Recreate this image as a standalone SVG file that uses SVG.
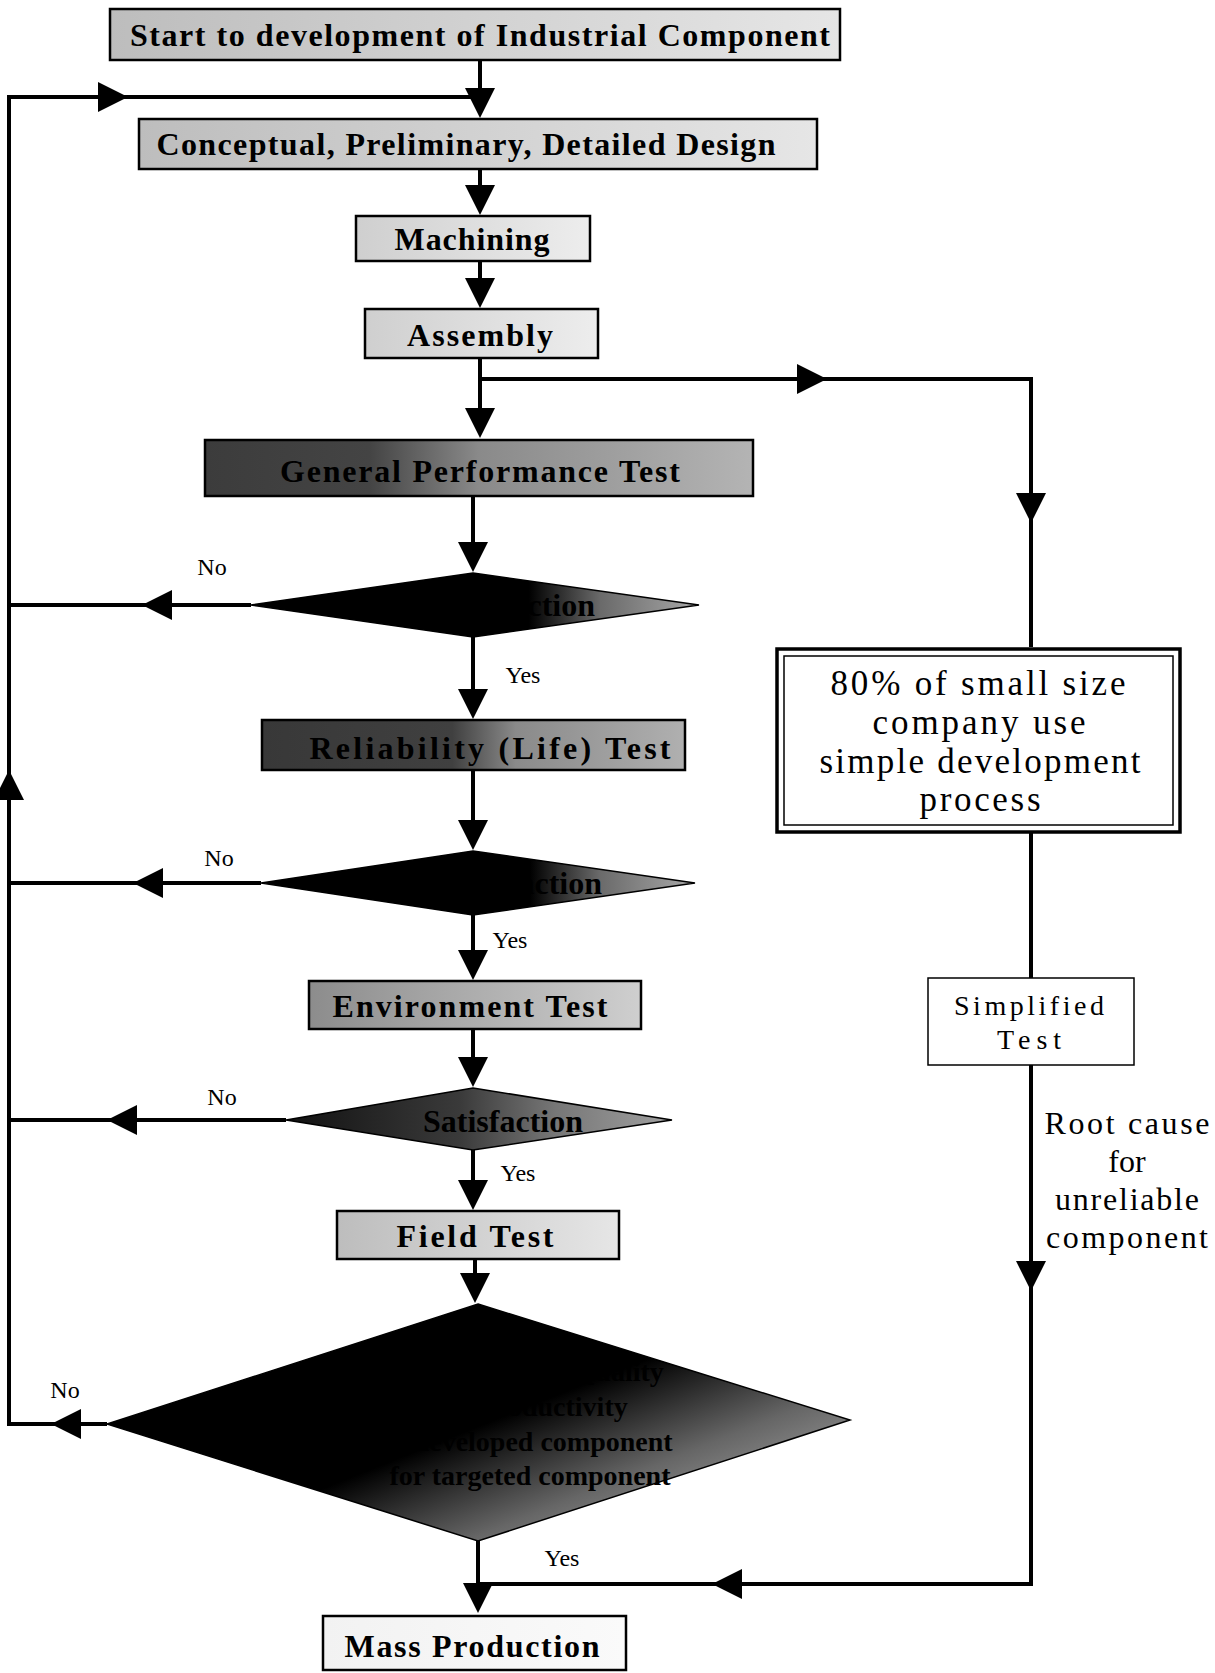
<svg xmlns="http://www.w3.org/2000/svg" xmlns:xlink="http://www.w3.org/1999/xlink" width="1215" height="1673" viewBox="0 0 1215 1673">
  <style>
    .box { stroke: #000; stroke-width: 2.5; }
    .dia { stroke: #000; stroke-width: 1.5; }
    .lbl { font-family: "Liberation Serif", "Times New Roman", serif; font-weight: bold; font-size: 32px; fill: #000; text-anchor: middle; }
    .big { font-size: 28px; }
    .note { font-family: "Liberation Serif", "Times New Roman", serif; font-size: 35px; fill: #000; text-anchor: middle; }
    .mid { font-size: 32px; }
    .small { font-size: 28px; }
    .yn { font-family: "Liberation Serif", "Times New Roman", serif; font-size: 24px; fill: #000; text-anchor: middle; }
    .wire { fill: none; stroke: #000; stroke-width: 4; }
  </style>
  <defs>
    <!-- arrowhead pointing along +x, tip at origin -->
    <polygon id="ah" points="0,0 -30,-15 -30,15" fill="#000"/>
    <linearGradient id="gLight" x1="0" y1="0" x2="1" y2="0">
      <stop offset="0" stop-color="#bdbdbd"/>
      <stop offset="1" stop-color="#e6e6e6"/>
    </linearGradient>
    <linearGradient id="gPale" x1="0" y1="0" x2="1" y2="0">
      <stop offset="0" stop-color="#cfcfcf"/>
      <stop offset="1" stop-color="#ededed"/>
    </linearGradient>
    <linearGradient id="gMid" x1="0" y1="0" x2="1" y2="0">
      <stop offset="0" stop-color="#8c8c8c"/>
      <stop offset="1" stop-color="#cfcfcf"/>
    </linearGradient>
    <linearGradient id="gDark" x1="0" y1="0" x2="1" y2="0">
      <stop offset="0" stop-color="#3c3c3c"/>
      <stop offset="0.3" stop-color="#444"/>
      <stop offset="0.5" stop-color="#8a8a8a"/>
      <stop offset="1" stop-color="#b4b4b4"/>
    </linearGradient>
    <linearGradient id="gDarker" x1="0" y1="0" x2="1" y2="0">
      <stop offset="0" stop-color="#383838"/>
      <stop offset="0.45" stop-color="#404040"/>
      <stop offset="0.6" stop-color="#8a8a8a"/>
      <stop offset="1" stop-color="#b0b0b0"/>
    </linearGradient>
    <linearGradient id="gWhite" x1="0" y1="0" x2="1" y2="0">
      <stop offset="0" stop-color="#f2f2f2"/>
      <stop offset="1" stop-color="#fafafa"/>
    </linearGradient>
    <linearGradient id="gDia" x1="0" y1="0" x2="1" y2="0">
      <stop offset="0" stop-color="#000"/>
      <stop offset="0.62" stop-color="#000"/>
      <stop offset="0.78" stop-color="#6a6a6a"/>
      <stop offset="1" stop-color="#a8a8a8"/>
    </linearGradient>
    <linearGradient id="gDiaMid" x1="0" y1="0" x2="1" y2="0">
      <stop offset="0" stop-color="#111"/>
      <stop offset="0.45" stop-color="#3a3a3a"/>
      <stop offset="0.7" stop-color="#777"/>
      <stop offset="1" stop-color="#a0a0a0"/>
    </linearGradient>
    <linearGradient id="gBig" x1="0.2" y1="0.2" x2="0.95" y2="0.8">
      <stop offset="0" stop-color="#000"/>
      <stop offset="0.45" stop-color="#000"/>
      <stop offset="0.75" stop-color="#666"/>
      <stop offset="1" stop-color="#a0a0a0"/>
    </linearGradient>
  </defs>

  <!-- connectors -->
  <g id="connectors">
    <!-- main spine -->
    <line class="wire" x1="480" y1="60" x2="480" y2="110"/>
    <use xlink:href="#ah" transform="translate(480,118) rotate(90)"/>
    <line class="wire" x1="480" y1="169" x2="480" y2="208"/>
    <use xlink:href="#ah" transform="translate(480,215) rotate(90)"/>
    <line class="wire" x1="480" y1="261" x2="480" y2="300"/>
    <use xlink:href="#ah" transform="translate(480,308) rotate(90)"/>
    <line class="wire" x1="480" y1="358" x2="480" y2="430"/>
    <use xlink:href="#ah" transform="translate(480,438) rotate(90)"/>
    <line class="wire" x1="473" y1="496" x2="473" y2="565"/>
    <use xlink:href="#ah" transform="translate(473,572) rotate(90)"/>
    <line class="wire" x1="473" y1="637" x2="473" y2="712"/>
    <use xlink:href="#ah" transform="translate(473,719) rotate(90)"/>
    <line class="wire" x1="473" y1="770" x2="473" y2="843"/>
    <use xlink:href="#ah" transform="translate(473,850) rotate(90)"/>
    <line class="wire" x1="473" y1="915" x2="473" y2="973"/>
    <use xlink:href="#ah" transform="translate(473,980) rotate(90)"/>
    <line class="wire" x1="473" y1="1029" x2="473" y2="1080"/>
    <use xlink:href="#ah" transform="translate(473,1087) rotate(90)"/>
    <line class="wire" x1="473" y1="1150" x2="473" y2="1203"/>
    <use xlink:href="#ah" transform="translate(473,1210) rotate(90)"/>
    <line class="wire" x1="475" y1="1259" x2="475" y2="1296"/>
    <use xlink:href="#ah" transform="translate(475,1303) rotate(90)"/>
    <line class="wire" x1="478" y1="1541" x2="478" y2="1605"/>
    <use xlink:href="#ah" transform="translate(478,1613) rotate(90)"/>

    <!-- rework loop on the left -->
    <polyline class="wire" points="480,97 9,97 9,1424 107,1424"/>
    <use xlink:href="#ah" transform="translate(128,97)"/>
    <use xlink:href="#ah" transform="translate(9,770) rotate(-90)"/>
    <line class="wire" x1="251" y1="605" x2="9" y2="605"/>
    <use xlink:href="#ah" transform="translate(142,605) rotate(180)"/>
    <line class="wire" x1="261" y1="883" x2="9" y2="883"/>
    <use xlink:href="#ah" transform="translate(133,883) rotate(180)"/>
    <line class="wire" x1="286" y1="1120" x2="9" y2="1120"/>
    <use xlink:href="#ah" transform="translate(107,1120) rotate(180)"/>
    <use xlink:href="#ah" transform="translate(51,1424) rotate(180)"/>

    <!-- simplified branch on the right -->
    <polyline class="wire" points="480,379 1031,379 1031,647"/>
    <use xlink:href="#ah" transform="translate(827,379)"/>
    <use xlink:href="#ah" transform="translate(1031,523) rotate(90)"/>
    <line class="wire" x1="1031" y1="832" x2="1031" y2="978"/>
    <polyline class="wire" points="1031,1065 1031,1584 478,1584"/>
    <use xlink:href="#ah" transform="translate(1031,1291) rotate(90)"/>
    <use xlink:href="#ah" transform="translate(712,1584) rotate(180)"/>

    <!-- branch labels -->
    <text class="yn" x="212" y="575">No</text>
    <text class="yn" x="523" y="683">Yes</text>
    <text class="yn" x="219" y="866">No</text>
    <text class="yn" x="510" y="948">Yes</text>
    <text class="yn" x="222" y="1105">No</text>
    <text class="yn" x="518" y="1181">Yes</text>
    <text class="yn" x="65" y="1398">No</text>
    <text class="yn" x="562" y="1566">Yes</text>
    <text class="note mid" x="1127" y="1134" textLength="165" lengthAdjust="spacing">Root cause</text>
    <text class="note mid" x="1127" y="1172">for</text>
    <text class="note mid" x="1127" y="1210" textLength="144" lengthAdjust="spacing">unreliable</text>
    <text class="note mid" x="1127" y="1248" textLength="162" lengthAdjust="spacing">component</text>
  </g>

  <g id="start">
    <rect class="box" x="110" y="9" width="730" height="51" fill="url(#gLight)" stroke-width="3"/>
    <text class="lbl" x="480" y="46" textLength="700" lengthAdjust="spacing">Start to development of Industrial Component</text>
  </g>
  <g id="design">
    <rect class="box" x="139" y="119" width="678" height="50" fill="url(#gLight)"/>
    <text class="lbl" x="466" y="155" textLength="619" lengthAdjust="spacing">Conceptual, Preliminary, Detailed Design</text>
  </g>
  <g id="machining">
    <rect class="box" x="356" y="216" width="234" height="45" fill="url(#gPale)"/>
    <text class="lbl" x="472" y="250" textLength="155" lengthAdjust="spacing">Machining</text>
  </g>
  <g id="assembly">
    <rect class="box" x="365" y="309" width="233" height="49" fill="url(#gPale)"/>
    <text class="lbl" x="480" y="346" textLength="146" lengthAdjust="spacing">Assembly</text>
  </g>
  <g id="general-test">
    <rect class="box" x="205" y="440" width="548" height="56" fill="url(#gDark)"/>
    <text class="lbl" x="480" y="482" textLength="400" lengthAdjust="spacing">General Performance Test</text>
  </g>
  <g id="check-general">
    <polygon class="dia" points="473,573 699,605 473,637 251,605" fill="url(#gDia)"/>
    <text class="lbl" x="515" y="616">Satisfaction</text>
  </g>
  <g id="life-test">
    <rect class="box" x="262" y="720" width="423" height="50" fill="url(#gDarker)"/>
    <text class="lbl" x="490" y="759" textLength="361" lengthAdjust="spacing">Reliability (Life) Test</text>
  </g>
  <g id="check-life">
    <polygon class="dia" points="473,851 695,883 473,915 261,883" fill="url(#gDia)"/>
    <text class="lbl" x="522" y="894">Satisfaction</text>
  </g>
  <g id="env-test">
    <rect class="box" x="309" y="981" width="332" height="48" fill="url(#gMid)"/>
    <text class="lbl" x="470" y="1017" textLength="275" lengthAdjust="spacing">Environment Test</text>
  </g>
  <g id="check-env">
    <polygon class="dia" points="473,1088 672,1120 473,1150 286,1120" fill="url(#gDiaMid)"/>
    <text class="lbl" x="503" y="1132">Satisfaction</text>
  </g>
  <g id="field-test">
    <rect class="box" x="337" y="1211" width="282" height="48" fill="url(#gLight)"/>
    <text class="lbl" x="475" y="1247" textLength="157" lengthAdjust="spacing">Field Test</text>
  </g>
  <g id="check-field">
    <polygon class="dia" points="478,1304 850,1420 478,1541 107,1424" fill="url(#gBig)"/>
    <text class="lbl big" x="530" y="1381">Satisfaction of Quality</text>
    <text class="lbl big" x="528" y="1416">and productivity</text>
    <text class="lbl big" x="528" y="1451">of developed component</text>
    <text class="lbl big" x="530" y="1485">for targeted component</text>
  </g>
  <g id="mass-production">
    <rect class="box" x="323" y="1616" width="303" height="54" fill="url(#gWhite)" stroke-width="3"/>
    <text class="lbl" x="472" y="1657" textLength="255" lengthAdjust="spacing">Mass Production</text>
  </g>
  <g id="small-company">
    <rect x="777" y="649" width="403" height="183" fill="#fff" stroke="#000" stroke-width="3.5"/>
    <rect x="784" y="656" width="389" height="169" fill="none" stroke="#000" stroke-width="1.5"/>
    <text class="note" x="978" y="695" textLength="295" lengthAdjust="spacing">80% of small size</text>
    <text class="note" x="979" y="734" textLength="213" lengthAdjust="spacing">company use</text>
    <text class="note" x="980" y="773" textLength="321" lengthAdjust="spacing">simple development</text>
    <text class="note" x="980" y="811" textLength="121" lengthAdjust="spacing">process</text>
  </g>
  <g id="simplified-test">
    <rect x="928" y="978" width="206" height="87" fill="#fff" stroke="#000" stroke-width="1.5"/>
    <text class="note small" x="1029" y="1015" textLength="150" lengthAdjust="spacing">Simplified</text>
    <text class="note small" x="1029" y="1049" textLength="64" lengthAdjust="spacing">Test</text>
  </g>
</svg>
